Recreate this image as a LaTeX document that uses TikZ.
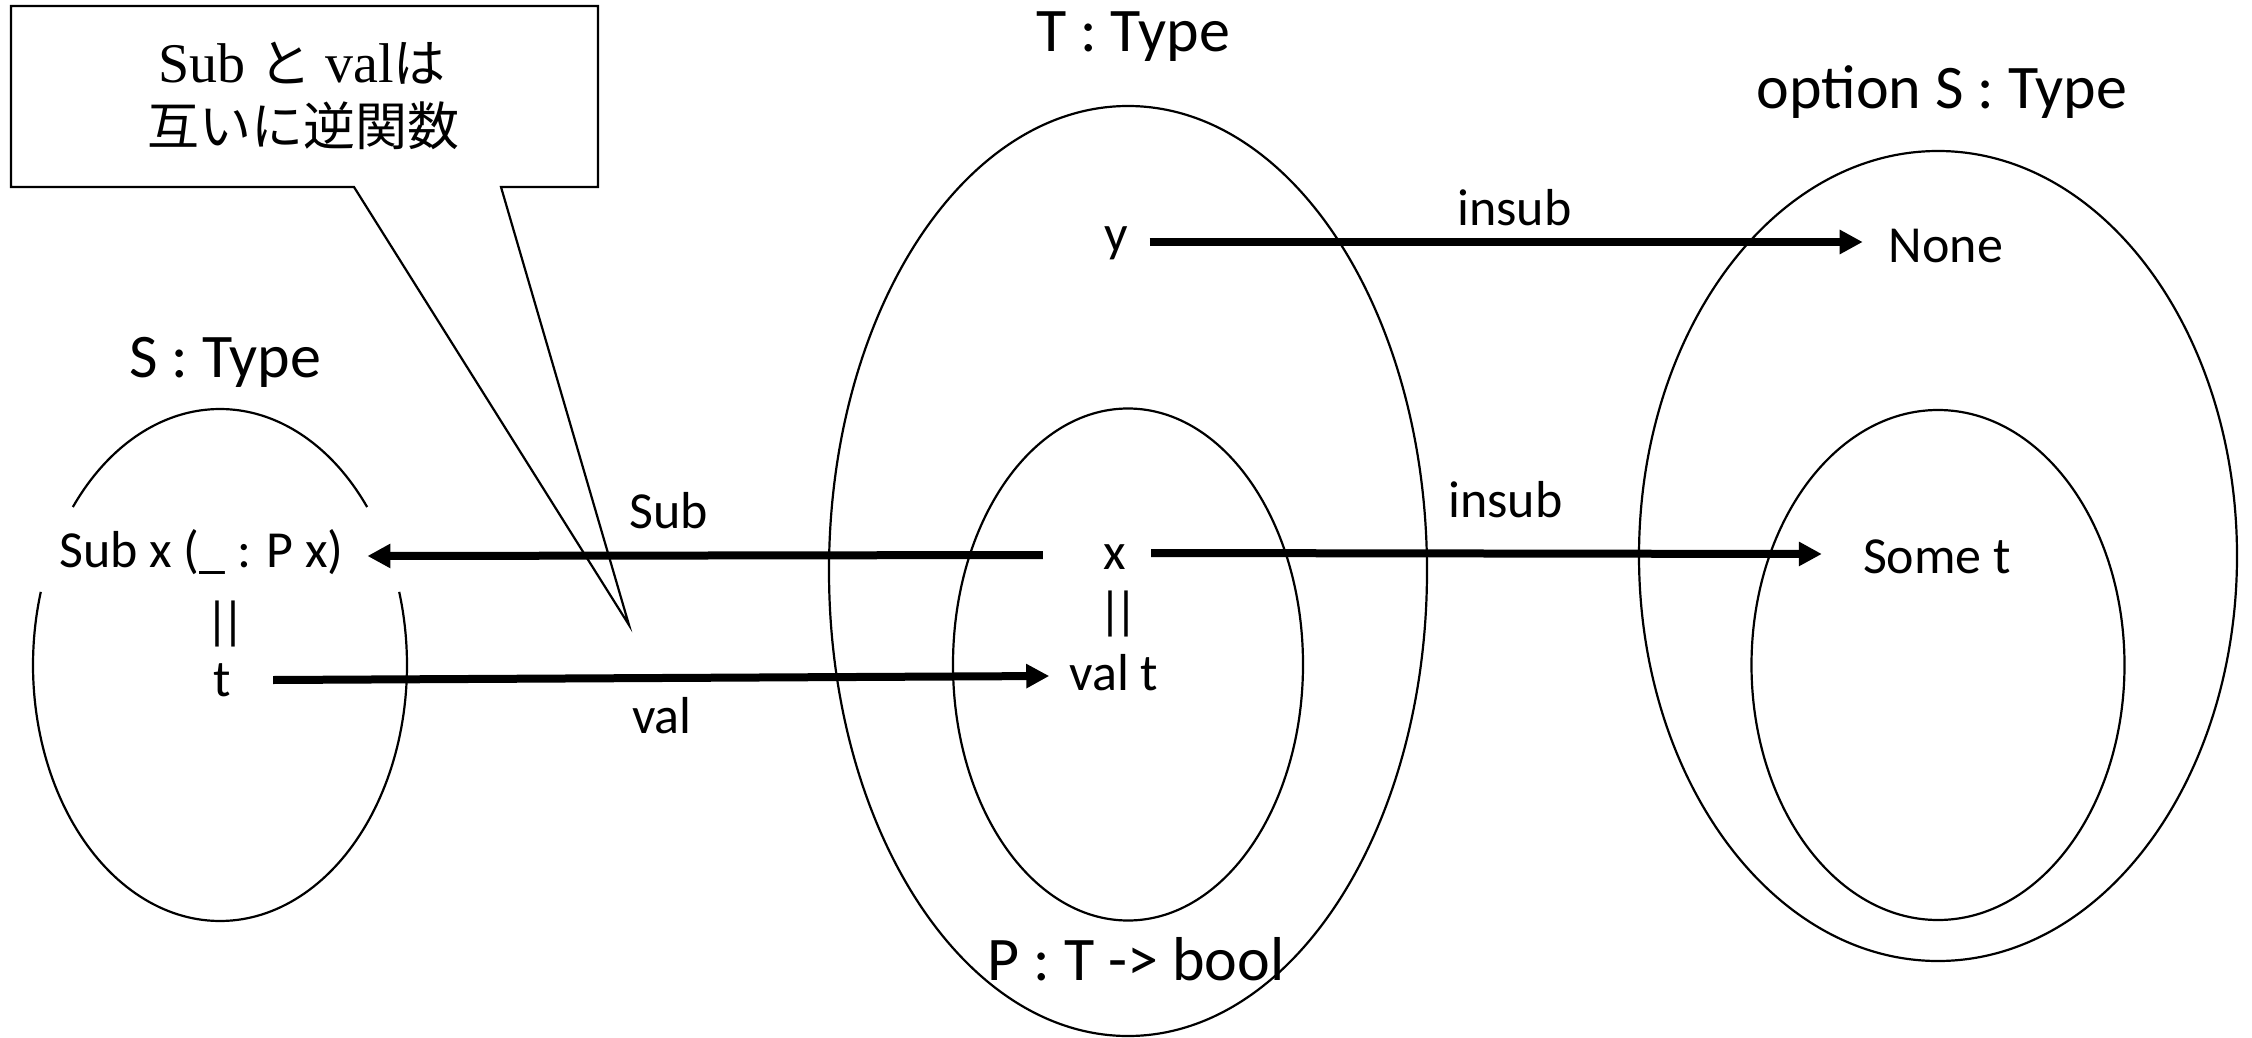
\documentclass[tikz,border=0pt]{standalone}
\usepackage{fontspec}
\setmainfont{Carlito}
\newfontfamily\cjk{Noto Sans CJK JP}
\newfontfamily\serif{Liberation Serif}
\usetikzlibrary{arrows.meta}
\begin{document}
\begin{tikzpicture}[x=1pt,y=-1pt,
  lbl/.style={font=\fontsize{52}{62}\selectfont, inner sep=0pt, anchor=base},
  ttl/.style={font=\fontsize{62}{74}\selectfont, inner sep=0pt, anchor=base},
  setline/.style={line width=2.2pt},
  arr/.style={line width=8pt, -{Triangle[length=23pt,width=23pt]}},
]
\useasboundingbox[fill=white] (0,0) rectangle (2252,1038);

% sets
\draw[setline] (1128,571) ellipse [x radius=299, y radius=465];
\draw[setline] (1128,664.5) ellipse [x radius=175, y radius=256];
\draw[setline] (1938,556) ellipse [x radius=299, y radius=405];
\draw[setline] (1938,665) ellipse [x radius=186.5, y radius=255];
\draw[setline] plot[domain=218.1:321.9, samples=80] ({220+187*cos(\x)},{665+256*sin(\x)});
\draw[setline] plot[domain=-16.6:196.6, samples=140] ({220+187*cos(\x)},{665+256*sin(\x)});

% callout
\draw[line width=2.2pt, miter limit=40] (11,6) -- (598,6) -- (598,187) -- (501,187) -- (629,625) -- (354,187) -- (11,187) -- cycle;
\node[lbl] (c1) at (302,83) {{\serif\fontsize{56}{66}\selectfont Sub }{\cjk と}{\serif\fontsize{56}{66}\selectfont\ val}{\cjk は}};
\node[lbl] (c2) at (303.5,146) {\cjk 互いに逆関数};

% titles
\node[ttl] (sT) at (225,377) {S : Type};
\node[ttl] (tT) at (1133,52) {T : Type};
\node[ttl] (oT) at (1942,109) {option S : Type};
\node[ttl] (pT) at (1136,980) {P : T -> bool};

% elements
\node[lbl] (subx) at (201.5,567.5) {Sub x (\_ : P x)};
\node[lbl, anchor=center] (eqS) at (225,624) {|\kern-8pt|};
\node[lbl] (tS) at (222,696) {t};
\node[lbl] (yT) at (1116,251) {y};
\node[lbl] (xT) at (1115,569) {x};
\node[lbl, anchor=center] (eqT) at (1118,614) {|\kern-8pt|};
\node[lbl] (valt) at (1114,690) {val t};
\node[lbl] (none) at (1946,262) {None};
\node[lbl] (somet) at (1937,573) {Some t};

% arrow labels
\node[lbl] (insub1) at (1514.5,225) {insub};
\node[lbl] (insub2) at (1505.5,517) {insub};
\node[lbl] (sublbl) at (669,528) {Sub};
\node[lbl] (vallbl) at (662,733) {val};

% arrows
\draw[arr] ([xshift=21.7pt,yshift=9pt]yT.base east) -- ([xshift=-26pt,yshift=20pt]none.base west);
\draw[arr] ([xshift=-60.7pt,yshift=14pt]xT.base west) -- ([xshift=23.5pt,yshift=11.5pt]subx.base east);
\draw[arr] ([xshift=24.7pt,yshift=16pt]xT.base east) -- ([xshift=-41pt,yshift=19pt]somet.base west);
\draw[arr] ([xshift=42.3pt,yshift=16pt]tS.base east) -- ([xshift=-20.2pt,yshift=14pt]valt.base west);
\end{tikzpicture}
\end{document}
